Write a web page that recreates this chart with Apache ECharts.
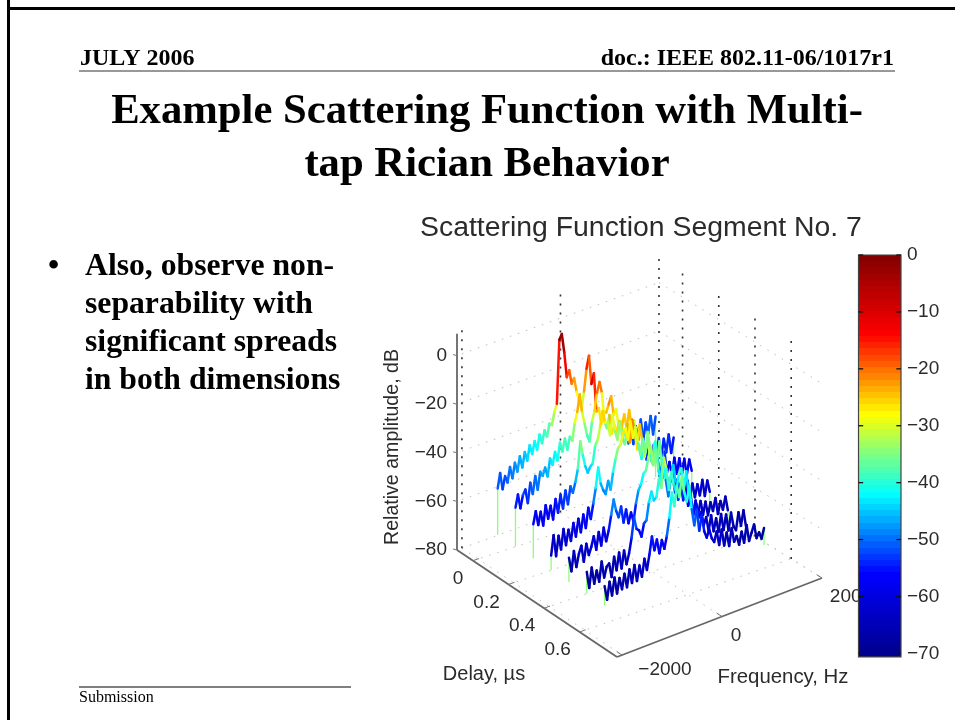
<!DOCTYPE html>
<html><head><meta charset="utf-8">
<style>html,body{margin:0;padding:0;background:#fff}#c{width:955px;height:720px;filter:blur(0.35px)}</style>
<script src="https://cdn.jsdelivr.net/npm/echarts@6/dist/echarts.min.js"></script>
</head><body><div id="c"></div>
<script>
// ---------- data ----------
const delays = [0, 0.1, 0.2, 0.3, 0.4, 0.5, 0.6];   // µs, one trace per delay
const freqStart = -1600, freqStep = 50;             // Hz per sample
const trace1 = [-54,-48,-55,-50,-53,-47,-52,-46,-50,-44,
 -49,-43,-47,-41,-45,-40,-44,-38,-42,-37,
 -40,-35,-36,-31,-28,-2,0,-8,-18.5,-16,
 -22,-20,-26,-30,-34,-27,-18,-13,-25,-21,
 -37,-36,-43,-38,-39,-36,-33,-41,-39,-46,
 -45,-51,-49,-55,-48,-56,-49,-55,-47,-56,
 -49,-54,-47,-55,-48];
const trace2 = [-57,-52,-58,-53,-51,-57,-49,-54,-47,-53,
 -46,-48,-45,-49,-42,-45,-40,-44,-37,-41,
 -36,-41,-36,-38,-31,-27,-20,-28,-33,-38,
 -41,-33,-29,-22,-18,-23,-35,-38,-33,-41,
 -38,-41,-37,-40,-35,-41,-34,-41,-39,-48,
 -50,-56,-50,-57,-51,-58,-52,-57,-50,-58,
 -51,-57,-50,-58,-52];
const trace3 = [-59,-54,-60,-55,-61,-53,-59,-54,-60,-52,
 -58,-51,-57,-50,-56,-49,-52,-48,-43,-32,
 -38,-43,-46,-44,-43,-36,-34,-29,-23,-28,
 -28,-34,-26,-33,-37,-30,-37,-40,-32,-40,
 -31,-37,-44,-34,-41,-48,-42,-47,-52,-44,
 -52,-44,-55,-49,-58,-54,-60,-53,-60,-54,
 -61,-55,-62,-56,-61];
const trace4 = [-67,-59,-68,-60,-66,-58,-65,-59,-64,-57,
 -63,-56,-62,-55,-61,-53,-58,-52,-46,-38,
 -45,-48,-50,-45,-49,-42,-37,-33,-32,-28,
 -26,-31,-24,-31,-27,-34,-39,-33,-39,-31,
 -39,-44,-36,-44,-48,-52,-48,-54,-55,-52,
 -60,-55,-61,-56,-62,-57,-64,-59,-65,-60,
 -65,-59,-66,-60,-65];
const trace5 = [-63,-69,-61,-68,-63,-60,-67,-60,-65,-62,
 -58,-64,-57,-63,-56,-62,-58,-52,-46,-51,
 -54,-50,-57,-52,-58,-54,-58,-51,-46,-44,
 -40,-39,-34,-30,-38,-32,-41,-45,-37,-46,
 -53,-46,-41,-49,-56,-50,-57,-53,-60,-56,
 -64,-59,-65,-60,-66,-61,-67,-62,-66,-61,
 -68,-63,-67,-62,-68];
const trace6 = [-64,-71,-63,-70,-65,-70,-62,-69,-65,-64,
 -70,-62,-68,-61,-68,-61,-67,-63,-57,-49,
 -54,-55,-58,-53,-52,-45,-41,-45,-44,-37,
 -41,-29,-34,-43,-36,-42,-45,-38,-36,-45,
 -38,-48,-52,-57,-53,-59,-57,-63,-60,-66,
 -60,-67,-62,-68,-61,-68,-62,-69,-62,-68,
 -70,-63,-69,-63,-70];
const trace7 = [-65,-71,-64,-70,-63,-70,-64,-69,-63,-69,
 -62,-68,-61,-68,-62,-67,-60,-65,-59,-52,
 -58,-54,-60,-55,-59,-54,-47,-37,-43,-35,
 -40,-32,-39,-43,-37,-47,-54,-48,-57,-51,
 -58,-61,-58,-62,-64,-60,-66,-60,-67,-62,
 -68,-61,-67,-65,-69,-64,-69,-62,-69,-66,
 -63,-69,-67,-70,-66];
const traces = [trace1, trace2, trace3, trace4, trace5, trace6, trace7];
const stemFloor = -73;
// colour level runs above the drawn height here in the rear traces
const liftedTraces = 3, liftFrom = 38, liftTo = 52, liftDb = 13;

const delayTicks = [0, 0.2, 0.4, 0.6];
const freqTicks = [-2000, 0, 2000];
const ampTicks = [0, -20, -40, -60, -80];
const colorbarTicks = [0, -10, -20, -30, -40, -50, -60, -70];
const jet = ['#00008f','#0000ff','#00ffff','#ffff00','#ff0000','#800000'];

// ---------- view of the 3-D box on the page ----------
const dMin = -0.09, dMax = 0.81, fMin = -2100, fMax = 2000, zFloor = -80, zTop = 10;
const cornerA = [457, 550], cornerB = [617, 657], cornerC = [822, 578], cornerD = [659, 477];
const pxPerDb = 2.43;
function project(d, f, z) {
  const s = (f - fMin) / (fMax - fMin), t = (d - dMin) / (dMax - dMin);
  const bx = cornerA[0] + (cornerD[0] - cornerA[0]) * s, by = cornerA[1] + (cornerD[1] - cornerA[1]) * s;
  const fx = cornerB[0] + (cornerC[0] - cornerB[0]) * s, fy = cornerB[1] + (cornerC[1] - cornerB[1]) * s;
  return [bx + (fx - bx) * t, by + (fy - by) * t - (z - zFloor) * pxPerDb];
}
const seg = (p, q, extra) => [p[0], p[1], q[0], q[1]].concat(extra === undefined ? [] : [extra]);

function lineSeries(name, data, style, extra) {
  return Object.assign({
    type: 'custom', name, xAxisIndex: 0, yAxisIndex: 0, clip: false, silent: true, data,
    encode: { x: [0, 2], y: [1, 3] },
    renderItem: (params, api) => {
      const a = api.coord([api.value(0), api.value(1)]), b = api.coord([api.value(2), api.value(3)]);
      return { type: 'line', shape: { x1: a[0], y1: a[1], x2: b[0], y2: b[1] },
        style: Object.assign({ fill: null }, style, style.stroke ? {} : { stroke: api.visual('color') }) };
    }
  }, extra || {});
}
function textSeries(name, items, font, extra) {
  return Object.assign({ type: 'custom', name, xAxisIndex: 0, yAxisIndex: 0, clip: false, silent: true,
    data: items.map(i => [i.p[0] + i.dx, i.p[1] + i.dy]), encode: { x: 0, y: 1 },
    renderItem: (params, api) => {
      const c = api.coord([api.value(0), api.value(1)]), it = items[params.dataIndex];
      return { type: 'text', x: c[0], y: c[1], style: { text: it.t, font, fill: '#2b2b2b',
        textAlign: it.align || 'center', textVerticalAlign: 'middle' } };
    } }, extra || {});
}

// wall and floor grids
const faintGrid = [], darkGrid = [], axes = [], axisTicks = [];
const backShift = 0.04;
ampTicks.forEach(z => {
  faintGrid.push(seg(project(dMin, -2000, z), project(dMin, fMax, z)));
  faintGrid.push(seg(project(dMin, fMax, z), project(dMax, fMax, z)));
  axisTicks.push(seg(project(dMin, fMin, z), [project(dMin, fMin, z)[0] - 4, project(dMin, fMin, z)[1] - 1]));
});
freqTicks.forEach(f => {
  faintGrid.push(seg(project(dMin, f, zFloor), project(dMax, f, zFloor)));
  darkGrid.push(seg(project(dMin, f, zFloor), project(dMin, f, zTop)));
  axisTicks.push(seg(project(dMax, f, zFloor), project(dMax - 0.03, f, zFloor)));
});
delayTicks.forEach(d => {
  faintGrid.push(seg(project(d, fMin, zFloor), project(d + backShift, fMax, zFloor)));
  darkGrid.push(seg(project(d + backShift, fMax, zFloor), project(d + backShift, fMax, zTop)));
  axisTicks.push(seg(project(d, fMin, zFloor), project(d, fMin + 120, zFloor)));
});
axes.push(seg(project(dMin, fMin, zFloor), project(dMin, fMin, 9)));
axes.push(seg(project(dMin, fMin, zFloor), project(dMax, fMin, zFloor)));
axes.push(seg(project(dMax, fMin, zFloor), project(dMax, fMax, zFloor)));

// traces: one coloured segment per sample pair, rear trace first
const traceSeq = [];
traces.forEach((vals, i) => {
  const d = delays[i], rows = [];
  const fAt = k => freqStart + k * freqStep;
  for (let k = 0; k < vals.length - 1; k++) {
    let level = (vals[k] + vals[k + 1]) / 2;
    if (i < liftedTraces && k >= liftFrom && k <= liftTo) level += liftDb;
    rows.push(seg(project(d, fAt(k), vals[k]), project(d, fAt(k + 1), vals[k + 1]), level));
  }
  const last = vals.length - 1;
  traceSeq.push(lineSeries('stems' + (i + 1), [
    seg(project(d, fAt(0), vals[0]), project(d, fAt(0), stemFloor)),
    seg(project(d, fAt(last), vals[last]), project(d, fAt(last), stemFloor))
  ], { stroke: '#8dff70', lineWidth: 1.3 }));
  traceSeq.push(lineSeries('trace' + (i + 1), rows, { lineWidth: 2.5, lineCap: 'round' }));
});
const firstTrace = 4;
const traceIdx = traceSeq.map((s, i) => i + firstTrace).filter((v, i) => i % 2 === 1);

const fmt = v => String(v).replace('-', '\u2212');
const amplabels = ampTicks.map(z => ({ t: fmt(z), p: project(dMin, fMin, z), dx: -10, dy: 0, align: 'right' }));
const delayLabels = delayTicks.map(d => ({ t: String(d), p: project(d, fMin, zFloor), dx: d === 0 ? -15 : -22, dy: 18 }));
const freqLabels = freqTicks.map(f => ({ t: fmt(f), p: project(dMax, f, zFloor), dx: f === 2000 ? 29 : (f === 0 ? 14 : 43), dy: f === -2000 ? 15 : 19 }));

// colour bar bands
const barBands = 64, barMin = -70, barMax = 0, barFoot = -70.6;
const bandLevels = Array.from({ length: barBands }, (_, i) => barMin + (i + 0.5) * (barMax - barMin) / barBands);
const bandSeries = {
  type: 'custom', name: 'colorbar', xAxisIndex: 1, yAxisIndex: 1, clip: false, silent: true,
  data: bandLevels.map(v => [0, v]), encode: { x: 0, y: 1 },
  renderItem: (params, api) => {
    const v = api.value(1), h = (barMax - barMin) / barBands;
    const low = params.dataIndex === 0 ? barFoot : v - h / 2;
    const p0 = api.coord([0, v + h / 2]), p1 = api.coord([1, low]);
    const y0 = Math.round(p0[1]), y1 = Math.round(p1[1]);
    return { type: 'rect', shape: { x: p0[0], y: y0, width: p1[0] - p0[0], height: y1 - y0 },
      style: { fill: api.visual('color') } };
  }
};
const barFrame = {
  type: 'custom', name: 'colorbarFrame', xAxisIndex: 1, yAxisIndex: 1, clip: false, silent: true,
  data: [[0, barMax, 1, barFoot]], encode: { x: [0, 2], y: [1, 3] },
  renderItem: (params, api) => {
    const a = api.coord([api.value(0), api.value(1)]), b = api.coord([api.value(2), api.value(3)]);
    return { type: 'rect', shape: { x: a[0], y: a[1], width: b[0] - a[0], height: b[1] - a[1] },
      style: { fill: null, stroke: '#444', lineWidth: 1.2 } };
  }
};
const barTickRows = [];
colorbarTicks.forEach(v => { barTickRows.push([0, v, 0.11, v], [0.89, v, 1, v]); });
const barTicks = lineSeries('colorbarTicks', barTickRows, { stroke: '#111', lineWidth: 1.3 }, { xAxisIndex: 1, yAxisIndex: 1 });

const serif = '"Liberation Serif"', sans = '"Liberation Sans"';
const slideText = (text, x, y, size, bold, align, family, color) => ({
  type: 'text', x, y, silent: true, z: 50,
  style: { text, font: (bold ? 'bold ' : '') + size + 'px ' + (family || serif), fill: color || '#000',
    textAlign: align || 'left', textVerticalAlign: 'middle' }
});
const rule = (x1, y1, x2, y2, w, color) => ({ type: 'line', silent: true, z: 50,
  shape: { x1, y1, x2, y2 }, style: { stroke: color || '#000', lineWidth: w } });

const chart = echarts.init(document.getElementById('c'), null, { renderer: 'canvas' });
chart.setOption({
  animation: false, backgroundColor: '#fff',
  grid: [
    { left: 0, top: 0, width: 955, height: 720, containLabel: false },
    { left: 858.5, top: 255, width: 42.5, height: 398.4, containLabel: false }
  ],
  xAxis: [
    { gridIndex: 0, type: 'value', min: 0, max: 955, show: false },
    { gridIndex: 1, type: 'value', min: 0, max: 1, show: false }
  ],
  yAxis: [
    { gridIndex: 0, type: 'value', min: 0, max: 720, inverse: true, show: false },
    { gridIndex: 1, type: 'value', min: barMin, max: barMax, interval: 10, position: 'right',
      axisLine: { show: false }, splitLine: { show: false }, axisTick: { show: false },
      axisLabel: { margin: 6, color: '#2b2b2b', fontFamily: sans, fontSize: 19, formatter: v => fmt(v),
        showMinLabel: true, showMaxLabel: true } }
  ],
  visualMap: [{
    type: 'continuous', show: false, min: barMin, max: barMax, dimension: 4,
    seriesIndex: traceIdx,
    inRange: { color: jet }
  }, {
    type: 'continuous', show: false, min: barMin, max: barMax, dimension: 1,
    seriesIndex: firstTrace + traceSeq.length,
    inRange: { color: jet }
  }],
  series: [
    lineSeries('grid', faintGrid, { stroke: '#bdbdbd', lineWidth: 1, lineDash: [1.5, 7] }),
    lineSeries('verticals', darkGrid, { stroke: '#333', lineWidth: 1.6, lineDash: [2, 7] }),
    lineSeries('axes', axes, { stroke: '#666', lineWidth: 1.8 }),
    lineSeries('axisTicks', axisTicks, { stroke: '#777', lineWidth: 1 }),
    ...traceSeq,
    bandSeries,
    barFrame,
    barTicks,
    textSeries('ampLabels', amplabels, '19px ' + sans),
    textSeries('delayLabels', delayLabels, '19px ' + sans),
    textSeries('freqLabels', freqLabels, '19px ' + sans, { z: 1 })
  ],
  graphic: { elements: [
    rule(8.5, 0, 8.5, 720, 3), rule(7, 8.5, 955, 8.5, 3),
    rule(79, 71, 895, 71, 1.2, '#333'), rule(79, 687, 351, 687, 1.2),
    slideText('JULY 2006', 80, 59, 24, true),
    slideText('doc.: IEEE 802.11-06/1017r1', 894, 59, 24, true, 'right'),
    slideText('Example Scattering Function with Multi-', 487, 112, 42.7, true, 'center'),
    slideText('tap Rician Behavior', 487, 165, 42.7, true, 'center'),
    slideText('\u2022', 48, 267, 32, true),
    slideText('Also, observe non-', 85, 267, 31.7, true),
    slideText('separability with', 85, 305, 31.7, true),
    slideText('significant spreads', 85, 343, 31.7, true),
    slideText('in both dimensions', 85, 381, 31.7, true),
    slideText('Submission', 79, 698, 16, false),
    slideText('Scattering Function Segment No. 7', 420, 228, 28.4, false, 'left', sans, '#2b2b2b'),
    Object.assign(slideText('Relative amplitude, dB', 393, 447, 19.6, false, 'center', sans, '#2b2b2b'), { rotation: Math.PI / 2 }),
    slideText('Delay, \u00b5s', 484, 674, 20, false, 'center', sans, '#2b2b2b'),
    slideText('Frequency, Hz', 783, 677, 20.4, false, 'center', sans, '#2b2b2b')
  ] }
});
</script></body></html>
